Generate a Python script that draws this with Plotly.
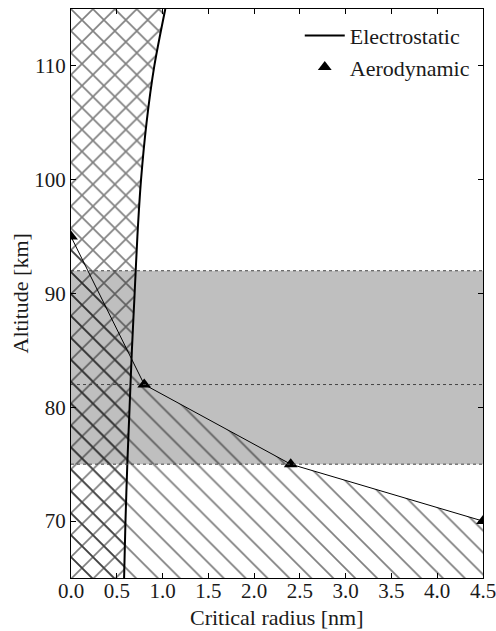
import plotly.graph_objects as go

# Data
alt_elec = [65, 70, 75, 80, 85, 90, 95, 100, 105, 110, 115]
r_elec = [0.58, 0.595, 0.615, 0.64, 0.665, 0.695, 0.725, 0.765, 0.825, 0.91, 1.03]

r_aero = [0.0, 0.8, 2.4, 4.5]
alt_aero = [95, 82, 75, 70]

band_low, band_mid, band_high = 75, 82, 92
x_ticks = [0.0, 0.5, 1.0, 1.5, 2.0, 2.5, 3.0, 3.5, 4.0, 4.5]
y_ticks = [70, 80, 90, 100, 110]
x_title = "Critical radius [nm]"
y_title = "Altitude [km]"

FONT = "Liberation Serif"
TXT = "#1a1a1a"

fig = go.Figure()

# Aerodynamic hatched region (below line)
fig.add_trace(go.Scatter(
    x=r_aero, y=alt_aero, mode="lines", fill="tozeroy",
    line=dict(color="black", width=1),
    fillcolor="rgba(0,0,0,0)",
    fillpattern=dict(shape="\\", size=15.5, solidity=0.11, fgcolor="black",
                     bgcolor="rgba(0,0,0,0)", fillmode="overlay"),
    showlegend=False, hoverinfo="skip",
))

# Electrostatic cross-hatched region (left of curve)
fig.add_trace(go.Scatter(
    x=r_elec, y=alt_elec, mode="lines", fill="tozerox",
    line=dict(color="black", width=0),
    fillcolor="rgba(0,0,0,0)",
    fillpattern=dict(shape="x", size=15.5, solidity=0.2, fgcolor="black",
                     bgcolor="rgba(0,0,0,0)", fillmode="overlay"),
    showlegend=False, hoverinfo="skip",
))

# Electrostatic curve
fig.add_trace(go.Scatter(
    x=r_elec, y=alt_elec, mode="lines",
    line=dict(color="black", width=2, shape="spline", smoothing=0.8),
    name="Electrostatic", showlegend=True,
))

# Aerodynamic markers
fig.add_trace(go.Scatter(
    x=r_aero, y=alt_aero, mode="markers",
    marker=dict(symbol="triangle-up", size=12, color="black"),
    name="Aerodynamic", showlegend=True,
))

# Gray band and dotted lines
fig.add_shape(type="rect", xref="x domain", yref="y", x0=0, x1=1,
              y0=band_low, y1=band_high, fillcolor="#bfbfbf",
              line=dict(width=0), layer="below")
for yv in (band_low, band_mid, band_high):
    fig.add_shape(type="line", xref="x domain", yref="y", x0=0, x1=1,
                  y0=yv, y1=yv, line=dict(color="#444444", width=1, dash="dot"),
                  layer="above")

# Axis titles
fig.add_annotation(text=x_title, xref="paper", yref="paper", x=0.5, y=0,
                   xanchor="center", yanchor="top", yshift=-25, showarrow=False,
                   font=dict(family=FONT, size=22, color=TXT))
fig.add_annotation(text=y_title, xref="paper", yref="paper", x=0, y=0.5,
                   xanchor="center", yanchor="middle", xshift=-51, textangle=-90,
                   showarrow=False, font=dict(family=FONT, size=22, color=TXT))

axis_common = dict(
    showgrid=False, zeroline=False, showline=True, linecolor="black",
    linewidth=1, mirror="ticks", ticks="inside", ticklen=5, tickwidth=1,
    tickcolor="black", tickfont=dict(family=FONT, size=21, color=TXT),
    automargin=False, ticklabeloverflow="allow",
)

fig.update_xaxes(range=[0, 4.5], tickvals=x_ticks,
                 ticktext=[f"{v:.1f}" for v in x_ticks],
                 ticklabelstandoff=-6, **axis_common)
fig.update_yaxes(range=[65, 115], tickvals=y_ticks, **axis_common)

fig.update_layout(
    width=496, height=631,
    margin=dict(l=71, r=13, t=9, b=53),
    paper_bgcolor="white", plot_bgcolor="white",
    font=dict(family=FONT, size=21, color=TXT),
    legend=dict(x=0.98, y=0.99, xanchor="right", yanchor="top",
                bgcolor="rgba(0,0,0,0)", borderwidth=0,
                font=dict(family=FONT, size=22, color=TXT),
                itemwidth=40),
)

fig.write_html("out.html")
